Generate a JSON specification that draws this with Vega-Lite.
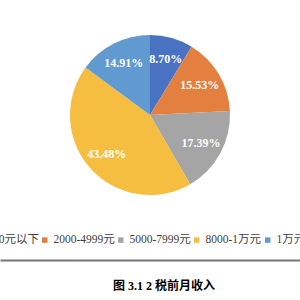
{
  "$schema": "https://vega.github.io/schema/vega-lite/v6.json",
  "width": 300,
  "height": 230,
  "autosize": {"type": "none"},
  "padding": {"top": 0, "left": 0, "right": 0, "bottom": 70},
  "background": "white",
  "config": {"view": {"stroke": null}},
  "title": {
    "text": "图 3.1 2 税前月收入",
    "orient": "bottom",
    "anchor": "middle",
    "offset": 21,
    "dx": 14,
    "font": "Liberation Serif, Noto Sans CJK SC",
    "fontSize": 12,
    "fontWeight": "bold",
    "color": "#000000"
  },
  "data": {
    "values": [
      {"i": 1, "group": "2000元以下", "share": 0.0870},
      {"i": 2, "group": "2000-4999元", "share": 0.1553},
      {"i": 3, "group": "5000-7999元", "share": 0.1739},
      {"i": 4, "group": "8000-1万元", "share": 0.4348},
      {"i": 5, "group": "1万元以上", "share": 0.1491}
    ]
  },
  "encoding": {
    "theta": {"field": "share", "type": "quantitative", "stack": true},
    "order": {"field": "i", "type": "quantitative"}
  },
  "layer": [
    {
      "mark": {"type": "arc", "outerRadius": 80},
      "encoding": {
        "x": {
          "datum": 0,
          "type": "quantitative",
          "scale": {"domain": [-1, 1]},
          "axis": {
            "orient": "bottom",
            "offset": 30,
            "labels": false,
            "ticks": false,
            "grid": false,
            "title": null,
            "domainColor": "#777777",
            "domainWidth": 2
          }
        },
        "color": {
          "field": "group",
          "type": "nominal",
          "sort": ["2000元以下", "2000-4999元", "5000-7999元", "8000-1万元", "1万元以上"],
          "scale": {
            "domain": ["2000元以下", "2000-4999元", "5000-7999元", "8000-1万元", "1万元以上"],
            "range": ["#4A72C2", "#E3803F", "#A5A5A5", "#F6BE40", "#6199D1"]
          },
          "legend": {
            "orient": "none",
            "legendX": -33,
            "legendY": 234,
            "direction": "horizontal",
            "columns": 5,
            "title": null,
            "symbolType": "square",
            "symbolSize": 30,
            "symbolStrokeWidth": 0,
            "labelFont": "Liberation Serif, Noto Sans CJK SC",
            "labelFontSize": 11.5,
            "labelColor": "#404040",
            "labelOffset": 3,
            "columnPadding": -4,
            "labelLimit": 200
          }
        }
      }
    },
    {
      "mark": {
        "type": "text",
        "radius": 58,
        "font": "Liberation Serif",
        "fontSize": 12,
        "fontWeight": "bold",
        "fill": "#ffffff"
      },
      "encoding": {
        "text": {"field": "share", "type": "quantitative", "format": ".2%"}
      }
    }
  ]
}
